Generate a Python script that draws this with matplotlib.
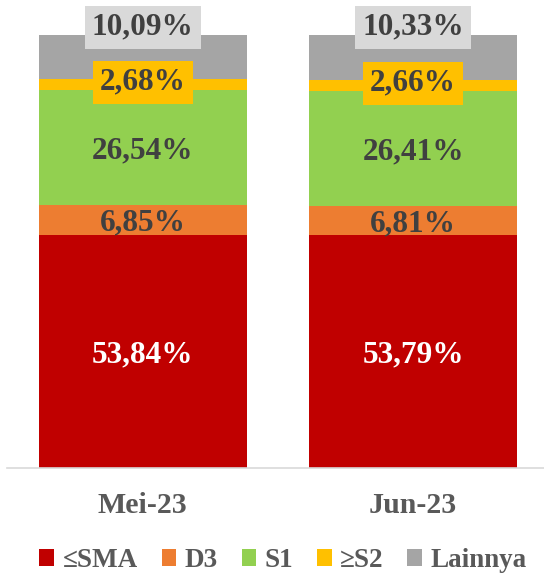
import matplotlib
matplotlib.use("Agg")
import matplotlib.pyplot as plt
import numpy as np

categories = ["Mei-23", "Jun-23"]
series_names = ["≤SMA", "D3", "S1", "≥S2", "Lainnya"]
sma = [53.84, 53.79]
d3 = [6.85, 6.81]
s1 = [26.54, 26.41]
s2 = [2.68, 2.66]
lainnya = [10.09, 10.33]
value_labels = {
    "≤SMA": ["53,84%", "53,79%"],
    "D3": ["6,85%", "6,81%"],
    "S1": ["26,54%", "26,41%"],
    "≥S2": ["2,68%", "2,66%"],
    "Lainnya": ["10,09%", "10,33%"],
}

colors = ["#C00000", "#ED7D31", "#92D050", "#FFC000", "#A5A5A5"]
text_colors = ["white", "#404040", "#404040", "#404040", "#404040"]
box_colors = [None, None, None, "#FFC000", "#D9D9D9"]

FONT = "Liberation Serif"

W, H = 544, 575
fig = plt.figure(figsize=(W / 100, H / 100), dpi=100)
ax = fig.add_axes([7.3 / W, (H - 468.3) / H, (W - 7.3) / W, 433.3 / H])

x = np.arange(len(categories))
data = [sma, d3, s1, s2, lainnya]
bottom = np.zeros(len(categories))
spacing = 270.2
bar_w = 207.7 / spacing
handles = []
for i, (name, vals) in enumerate(zip(series_names, data)):
    vals = np.array(vals)
    b = ax.bar(x, vals, bar_w, bottom=bottom, color=colors[i], label=name,
               edgecolor="none", zorder=2)
    handles.append(b)
    for j in range(len(categories)):
        yc = bottom[j] + vals[j] / 2
        if name == "Lainnya":
            yc = 100 + 1.8
        elif name == "≥S2":
            yc = yc + 0.5
        else:
            yc = yc - 0.7
        kw = {}
        if box_colors[i]:
            kw["bbox"] = dict(boxstyle="square,pad=0.22", fc=box_colors[i], ec="none")
        ax.text(x[j], yc, value_labels[name][j], ha="center", va="center",
                fontsize=22.5, fontweight="bold", family=FONT, color=text_colors[i],
                zorder=5, **kw)
    bottom = bottom + vals

ax.set_xlim(-135.5 / spacing, (544 - 142.8) / spacing)
ax.set_ylim(0, 100)
for s in ["top", "left", "right"]:
    ax.spines[s].set_visible(False)
ax.spines["bottom"].set_color("#D9D9D9")
ax.spines["bottom"].set_linewidth(1.2)
ax.set_yticks([])
ax.set_xticks(x)
ax.set_xticklabels(categories, fontsize=21.5, fontweight="bold", family=FONT, color="#595959")
ax.tick_params(axis="x", length=0, pad=17)
ax.patch.set_alpha(0)

leg = fig.legend(handles=handles, labels=series_names, loc="center",
                 bbox_to_anchor=(283 / W, 14.5 / H), ncol=5, frameon=False,
                 prop=dict(family=FONT, weight="bold", size=19.5),
                 handlelength=0.55, handleheight=0.55, handletextpad=0.3,
                 columnspacing=0.88, borderaxespad=0, borderpad=0)
for t in leg.get_texts():
    t.set_color("#595959")

fig.savefig("out.png", dpi=100)
